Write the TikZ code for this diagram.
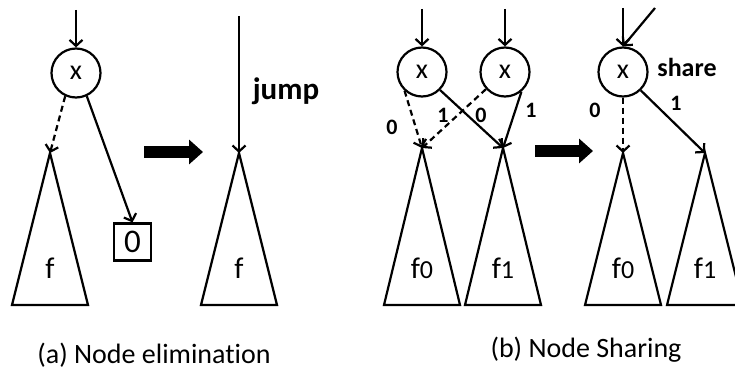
\documentclass[tikz,border=0pt]{standalone}
\usepackage{fontspec}
\setmainfont{Carlito}[Ligatures=NoCommon]
\usetikzlibrary{arrows.meta, positioning, calc}

% one sub-diagram: apex, label name, label text
\newcommand{\tree}[3]{%
  \draw (#1) -- ($(#1|-0,305)+(-38,0)$) -- ($(#1|-0,305)+(38,0)$) -- cycle;
  \node[flab] (#2) at (#1|-0,278) {#3};}
\newcommand{\dg}[1]{{\fontsize{26}{26}\selectfont #1}}

\begin{document}
\begin{tikzpicture}[x=1pt, y=-1pt, line width=2.2pt,
    >={Straight Barb[length=6pt,width=13pt]},
    var/.style={draw, circle, minimum size=49pt, inner sep=0pt, font=\fontsize{28}{28}\selectfont},
    term/.style={draw, minimum size=37pt, inner sep=0pt, font=\fontsize{33}{33}\selectfont},
    edge0/.style={->, dash pattern=on 6pt off 4pt},
    elab/.style={font=\bfseries\fontsize{22}{22}\selectfont},
    note/.style={font=\bfseries\fontsize{26}{26}\selectfont, anchor=base},
    caption/.style={font=\fontsize{28}{28}\selectfont, anchor=base},
    flab/.style={font=\fontsize{30}{30}\selectfont, anchor=base},
    bigarrow/.style={line width=12pt, -{Triangle[length=14pt,width=24pt]}}]
\useasboundingbox (0,0) rectangle (735,374);

% (a) node elimination
\node[var] (xa) at (76,73) {x};
\coordinate (ina) at (76,10);
\draw[->] (ina) -- (xa);
\coordinate (aF) at (50,153);
\tree{aF}{fa}{f}
\node[term] (zero) at (132.5,242) {0};
\draw[edge0] (xa.-115) -- (aF);
\draw[->] (xa.-65) -- (zero.north);

\coordinate (ar1s) at (144,152);
\coordinate (ar1e) at (203,152);
\draw[bigarrow] (ar1s) -- (ar1e);

\coordinate (inm) at (239,16);
\coordinate (mF) at (239,153);
\draw[->] (inm) -- (mF);
\tree{mF}{fm}{f}
\node[note, font=\bfseries\fontsize{31}{31}\selectfont] (jump) at (286,100) {jump};

\node[caption] (capa) at (154,363) {(a) Node elimination};

% (b) node sharing
\node[var] (xb0) at (422,72) {x};
\node[var] (xb1) at (505,72) {x};
\coordinate (inb0) at (422,9);
\coordinate (inb1) at (505,9);
\draw[->] (inb0) -- (xb0);
\draw[->] (inb1) -- (xb1);
\coordinate (bF0) at (422,148);
\coordinate (bF1) at (503,148);
\tree{bF0}{fb0}{f\dg{0}}
\tree{bF1}{fb1}{f\dg{1}}
\draw[edge0] (xb0.-133) -- (bF0);
\draw[->] (xb0.-45) -- (bF1);
\draw[edge0] (xb1.-138) -- (bF0);
\draw[->] (xb1.-50) -- (bF1);
\node[elab] (lb00) at (392,127) {0};
\node[elab] (lb01) at (443,115) {1};
\node[elab] (lb10) at (481,115) {0};
\node[elab] (lb11) at (531,110) {1};

\coordinate (ar2s) at (535,151);
\coordinate (ar2e) at (593,151);
\draw[bigarrow] (ar2s) -- (ar2e);

\node[var] (xc) at (623,72) {x};
\coordinate (inc0) at (623,8);
\coordinate (inc1) at (655,8);
\draw[->] (inc0) -- (xc.north);
\draw[->] (inc1) -- (xc.north);
\node[note] (share) at (687,77) {share};
\coordinate (cF0) at (623,153);
\coordinate (cF1) at (705,153);
\tree{cF0}{fc0}{f\dg{0}}
\tree{cF1}{fc1}{f\dg{1}}
\draw[edge0] (xc.south) -- (cF0);
\draw[->] (xc.-46) -- (cF1);
\node[elab] (lc0) at (595,110) {0};
\node[elab] (lc1) at (676,103) {1};

\node[caption] (capb) at (586,357) {(b) Node Sharing};
\end{tikzpicture}
\end{document}
